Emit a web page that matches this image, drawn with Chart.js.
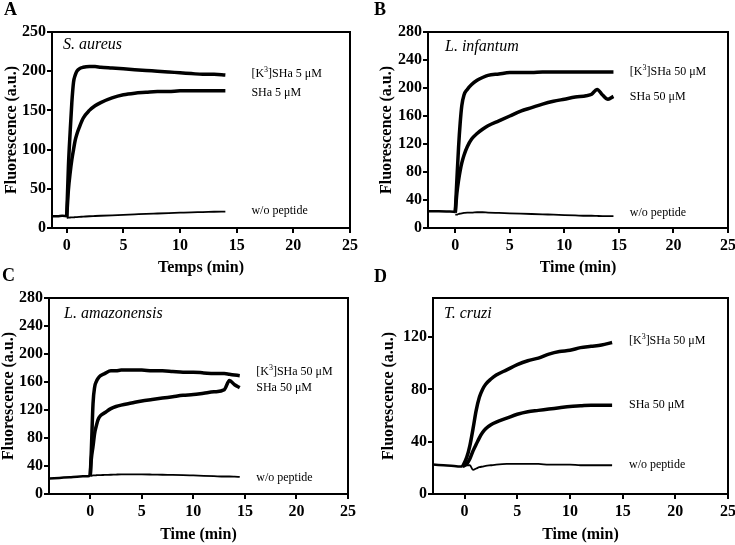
<!DOCTYPE html>
<html>
<head>
<meta charset="utf-8">
<script src="https://cdn.jsdelivr.net/npm/chart.js@4"></script>
<style>
  body { margin: 0; background: #fff; }
  #wrap { position: relative; width: 735px; height: 545px; overflow: hidden; }
  canvas { position: absolute; }
</style>
</head>
<body>
<div id="wrap">
  <canvas id="panelA" width="368" height="282" style="left:0;top:0"></canvas>
  <canvas id="panelB" width="367" height="282" style="left:368px;top:0"></canvas>
  <canvas id="panelC" width="368" height="283" style="left:0;top:262px"></canvas>
  <canvas id="panelD" width="367" height="283" style="left:368px;top:262px"></canvas>
</div>
<script>
const FONT = '"Liberation Serif", "Times New Roman", serif';
const xTicks = [0, 5, 10, 15, 20, 25];

// A - S. aureus, 5 uM
const aPreT = [-1.3, -0.8, -0.4, 0];
const aPre = [15, 15, 15.5, 15];
const aT = [0, 0.15, 0.3, 0.45, 0.6, 0.75, 0.9, 1.1, 1.45, 2, 2.5, 3, 4, 5, 6, 7, 8, 9, 10, 11, 12, 13, 14];
const aK3 = [14, 79, 122, 160, 186, 195, 200, 203, 205, 206, 206, 205, 204, 203, 202, 201, 200, 199, 198, 197, 196, 196, 195];
const aSHa = [14, 49, 70, 87, 100, 112, 120, 128, 140, 150, 156, 160, 166, 170, 172, 173, 174, 174, 175, 175, 175, 175, 175];
const aWo = [13, 13.2, 13.4, 13.5, 13.6, 13.8, 14, 14.2, 14.5, 15, 15.3, 15.6, 16.2, 16.8, 17.4, 18, 18.5, 19, 19.5, 20, 20.3, 20.7, 21];
const aYTicks = [0, 50, 100, 150, 200, 250];
const aLabelY = [196, 173, 22];

// B - L. infantum, 50 uM
const bPreT = [-2.5, -1.5, -0.5, 0];
const bPre = [24, 24, 23.5, 23];
const bT = [0, 0.15, 0.3, 0.45, 0.6, 0.8, 1.1, 1.5, 2, 2.5, 3, 4, 5, 6, 7, 8, 9, 10, 11, 12, 12.5, 13, 13.5, 14, 14.5];
const bK3 = [22, 70, 115, 150, 175, 190, 198, 205, 211, 215, 218, 220, 222, 222, 222, 223, 223, 223, 223, 223, 223, 223, 223, 223, 223];
const bSHa = [22, 50, 68, 82, 93, 104, 116, 127, 135, 141, 146, 153, 160, 167, 172, 177, 181, 184, 187, 189, 191, 198, 190, 184, 188];
const bWo = [19, 19, 20, 20.5, 21, 21.5, 22, 22, 22.5, 22.5, 22, 21.5, 21, 20.5, 20, 19.5, 19, 18.5, 18, 17.5, 17.5, 17.2, 17, 17, 17];
const bYTicks = [0, 40, 80, 120, 160, 200, 240, 280];
const bLabelY = [223, 187, 22];

// C - L. amazonensis, 50 uM
const cPreT = [-4, -3, -2, -1, -0.3, 0];
const cPre = [22, 23, 24, 25, 25.5, 26];
const cT = [0, 0.1, 0.27, 0.43, 0.6, 0.75, 1, 1.4, 2, 2.5, 3, 4, 5, 6, 7, 8, 9, 10, 11, 12, 13, 13.5, 14, 14.5];
const cK3 = [26, 60, 129, 153, 161, 165, 169, 172, 176, 176, 177, 177, 177, 176, 176, 175, 174, 174, 173, 172, 172, 171, 170, 169];
const cSHa = [26, 49, 68, 87, 98, 106, 112, 116, 122, 125, 127, 130, 133, 135, 137, 139, 141, 142, 144, 146, 149, 162, 156, 152];
const cWo = [26, 26, 26.5, 26.5, 26.8, 27, 27, 27.3, 27.5, 27.8, 28, 28, 28, 27.8, 27.5, 27.3, 27, 26.5, 26, 25.5, 25, 25, 24.8, 24.5];
const cYTicks = [0, 40, 80, 120, 160, 200, 240, 280];
const cLabelY = [175, 151, 22.5];

// D - T. cruzi, 50 uM
const dPreT = [-3, -2, -1, -0.5, -0.2];
const dPre = [22.5, 22, 21.5, 21, 21];
const dT = [-0.2, 0.2, 0.5, 0.8, 1.1, 1.4, 1.7, 2, 2.5, 3, 4, 5, 6, 7, 8, 9, 10, 11, 12, 13, 14];
const dK3 = [21, 28, 37, 50, 64, 74, 80, 84, 88, 91, 95, 99, 102, 104, 107, 109, 110, 112, 113, 114, 116];
const dSHa = [21, 23, 27, 33, 38, 43, 47, 50, 53, 55, 58, 61, 63, 64, 65, 66, 67, 67.5, 68, 68, 68];
const dWo = [21, 22, 22, 18.5, 19.5, 20.5, 21, 21.5, 22, 22.5, 23, 23, 23, 23, 22.5, 22.5, 22.5, 22, 22, 22, 22];
const dYTicks = [0, 40, 80, 120];
const dLabelY = [117, 68, 22.5];

const labels5 = ['[K3]SHa 5 μM', 'SHa 5 μM', 'w/o peptide'];
const labels50 = ['[K3]SHa 50 μM', 'SHa 50 μM', 'w/o peptide'];

const annotate = {
  id: 'annotate',
  afterDraw(chart, args, o) {
    const { ctx, chartArea: ca, scales: { x, y } } = chart;
    ctx.save();
    // frame round plot
    ctx.strokeStyle = '#000';
    ctx.lineWidth = 2;
    ctx.strokeRect(ca.left, ca.top, ca.right - ca.left, ca.bottom - ca.top);
    ctx.fillStyle = '#000';
    ctx.textBaseline = 'middle';
    ctx.textAlign = 'left';
    ctx.font = 'italic 16px ' + FONT;
    ctx.fillText(o.species, ca.left + o.spDx, ca.top + o.spDy);
    // curve labels, with the superscript in [K3]
    o.labels.forEach((txt, i) => {
      let px = x.getPixelForValue(o.labelX);
      const py = y.getPixelForValue(o.labelY[i]);
      const m = txt.match(/^\[K(\d)\](.*)$/);
      ctx.font = '12px ' + FONT;
      if (m) {
        ctx.fillText('[K', px, py);
        px += ctx.measureText('[K').width;
        ctx.font = '8px ' + FONT;
        ctx.fillText(m[1], px, py - 4);
        px += ctx.measureText(m[1]).width;
        ctx.font = '12px ' + FONT;
        ctx.fillText(']' + m[2], px, py);
      } else {
        ctx.fillText(txt, px, py);
      }
    });
    ctx.font = 'bold 18px ' + FONT;
    ctx.fillText(o.letter, o.letterX, o.letterY);
    ctx.restore();
  }
};

function series(t, v) {
  return t.map((x, i) => ({ x: x, y: v[i] }));
}

function makePanel(id, p) {
  const tickFont = { family: FONT, size: 16, weight: 'bold' };
  const titleFont = { family: FONT, size: 16, weight: 'bold', lineHeight: 1 };
  new Chart(document.getElementById(id), {
    type: 'line',
    data: {
      datasets: [
        { data: series(p.preT, p.pre), borderWidth: 2.5 },
        { data: series(p.t, p.wo), borderWidth: 1.8 },
        { data: series(p.t, p.sha), borderWidth: 3.5 },
        { data: series(p.t, p.k3), borderWidth: 3.5 }
      ]
    },
    options: {
      responsive: false,
      animation: false,
      events: [],
      elements: {
        point: { radius: 0 },
        line: { borderColor: '#000', cubicInterpolationMode: 'monotone', fill: false }
      },
      layout: { padding: { left: 0, top: p.top, right: p.right, bottom: 0 } },
      plugins: {
        legend: { display: false },
        tooltip: { enabled: false },
        annotate: {
          species: p.species, spDx: p.spDx, spDy: p.spDy,
          labels: p.labels, labelX: p.labelX, labelY: p.labelY,
          letter: p.letter, letterX: p.letterX, letterY: p.letterY
        }
      },
      scales: {
        x: {
          type: 'linear', min: p.xMin, max: 25,
          afterBuildTicks: s => { s.ticks = xTicks.map(v => ({ value: v })); },
          afterFit: s => { s.height = p.xh; s.paddingLeft = 0; s.paddingRight = 0; },
          ticks: { color: '#000', font: tickFont, padding: 3, maxRotation: 0 },
          grid: { drawOnChartArea: false, tickLength: 5, color: '#000', lineWidth: 2 },
          border: { color: '#000', width: 2 },
          title: { display: true, text: p.xTitle, color: '#000', font: titleFont, padding: { top: 0, bottom: p.xTitlePad } }
        },
        y: {
          type: 'linear', min: 0, max: p.yMax,
          afterBuildTicks: s => { s.ticks = p.yTicks.map(v => ({ value: v })); },
          afterFit: s => { s.width = p.yw; s.paddingTop = 0; s.paddingBottom = 0; },
          ticks: { color: '#000', font: tickFont, padding: 1 },
          grid: { drawOnChartArea: false, tickLength: 5, color: '#000', lineWidth: 2 },
          border: { color: '#000', width: 2 },
          title: { display: true, text: 'Fluorescence (a.u.)', color: '#000', font: titleFont, padding: { top: p.yTitlePad, bottom: 0 } }
        }
      }
    },
    plugins: [annotate]
  });
}

makePanel('panelA', {
  preT: aPreT, pre: aPre, t: aT, k3: aK3, sha: aSHa, wo: aWo,
  xMin: -1.3, yMax: 250, yTicks: aYTicks,
  top: 32, right: 18, yw: 52, xh: 54, xTitle: 'Temps (min)', xTitlePad: 6, yTitlePad: 4,
  species: 'S. aureus', spDx: 11, spDy: 13,
  labels: labels5, labelX: 16.3, labelY: aLabelY,
  letter: 'A', letterX: 4, letterY: 10
});

makePanel('panelB', {
  preT: bPreT, pre: bPre, t: bT, k3: bK3, sha: bSHa, wo: bWo,
  xMin: -2.5, yMax: 280, yTicks: bYTicks,
  top: 32, right: 7, yw: 60, xh: 54, xTitle: 'Time (min)', xTitlePad: 6, yTitlePad: 11,
  species: 'L. infantum', spDx: 17, spDy: 15,
  labels: labels50, labelX: 16.0, labelY: bLabelY,
  letter: 'B', letterX: 6, letterY: 10
});

makePanel('panelC', {
  preT: cPreT, pre: cPre, t: cT, k3: cK3, sha: cSHa, wo: cWo,
  xMin: -4, yMax: 280, yTicks: cYTicks,
  top: 36, right: 20, yw: 49, xh: 51, xTitle: 'Time (min)', xTitlePad: 2, yTitlePad: 1,
  species: 'L. amazonensis', spDx: 15, spDy: 16,
  labels: labels50, labelX: 16.1, labelY: cLabelY,
  letter: 'C', letterX: 2, letterY: 14
});

makePanel('panelD', {
  preT: dPreT, pre: dPre, t: dT, k3: dK3, sha: dSHa, wo: dWo,
  xMin: -3, yMax: 150, yTicks: dYTicks,
  top: 36, right: 7, yw: 65, xh: 51, xTitle: 'Time (min)', xTitlePad: 2, yTitlePad: 13,
  species: 'T. cruzi', spDx: 11, spDy: 16,
  labels: labels50, labelX: 15.6, labelY: dLabelY,
  letter: 'D', letterX: 6, letterY: 15
});
</script>
</body>
</html>
